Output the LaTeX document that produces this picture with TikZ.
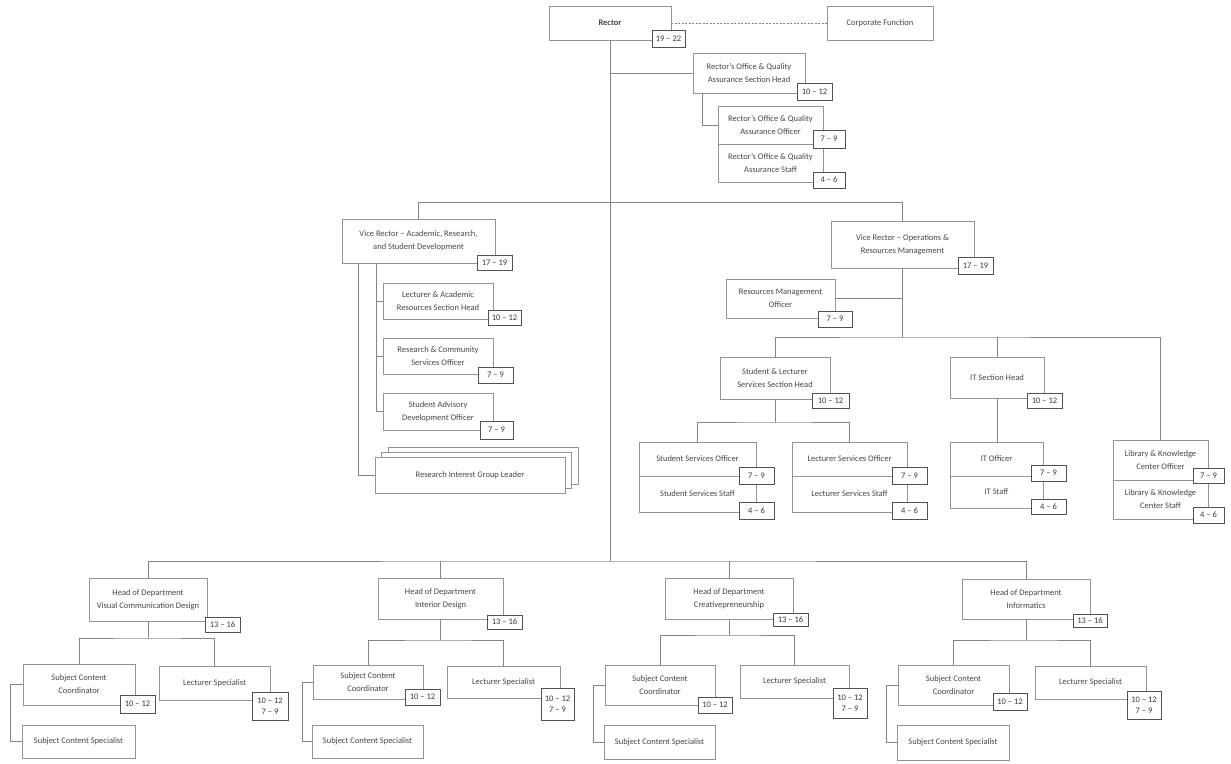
\documentclass[tikz,border=0pt]{standalone}
\usepackage{fontspec}
\setmainfont{Carlito}
\usetikzlibrary{backgrounds,calc}
\tikzset{
  box/.style={draw=black!42, line width=0.6pt, fill=white, inner sep=1pt, outer sep=0pt,
    align=center, font=\fontsize{8.5}{13}\selectfont, text=black!72},
  grade/.style={draw=black!68, line width=0.75pt, fill=white, inner sep=1pt, outer sep=0pt,
    align=center, font=\fontsize{8.5}{11}\selectfont, text=black!78},
  conn/.style={draw=black!48, line width=0.6pt},
}
\newcommand\obox[7][]{\node[box,minimum width={(#5-#3)*1pt},minimum height={(#6-#4)*1pt},#1] (#2) at ({(#3+#5)/2},{(#4+#6)/2}) {#7};}
\newcommand\gbox[7][]{\node[grade,minimum width={(#5-#3)*1pt},minimum height={(#6-#4)*1pt},#1] (#2) at ({(#3+#5)/2},{(#4+#6)/2}) {#7};}
\begin{document}
\begin{tikzpicture}[x=1pt,y=-1pt]
\useasboundingbox (0,0) rectangle (1231,763);
% ---------- top ----------
\obox[font=\bfseries\fontsize{8.5}{13}\selectfont]{rector}{549}{6}{671}{40}{Rector}
\gbox{gRector}{652}{30}{685}{47}{19 – 22}
\obox{corp}{827}{6}{933}{40}{Corporate Function}
\obox{roqa}{693}{53}{805}{93}{Rector's Office \& Quality\\Assurance Section Head}
\gbox{gRoqa}{797}{83}{832}{100}{10 – 12}
\obox{roqaO}{718}{106}{823}{144}{Rector's Office \& Quality\\Assurance Officer}
\obox{roqaS}{718}{144}{823}{182}{Rector's Office \& Quality\\Assurance Staff}
\gbox{gRoqaO}{813}{130}{845}{148}{7 – 9}
\gbox{gRoqaS}{813}{172}{845}{188}{4 – 6}
% ---------- VR academic ----------
\obox{vra}{342}{219}{495}{263}{Vice Rector – Academic, Research,\\and Student Development}
\gbox{gVra}{477}{255}{512}{270}{17 – 19}
\obox{la}{383}{283}{493}{319}{Lecturer \& Academic\\Resources Section Head}
\gbox{gLa}{488}{310}{521}{325}{10 – 12}
\obox{rc}{383}{338}{493}{374}{Research \& Community\\Services Officer}
\gbox{gRc}{478}{367}{513}{383}{7 – 9}
\obox{sa}{383}{393}{493}{430}{Student Advisory\\Development Officer}
\gbox{gSa}{480}{421}{513}{439}{7 – 9}
\obox{rigl3}{388}{447}{578}{484}{}
\obox{rigl2}{381}{452}{571}{488}{}
\obox{rigl}{375}{457}{565}{493}{Research Interest Group Leader}
% ---------- VR operations ----------
\obox{vro}{831}{221}{974}{268}{Vice Rector – Operations \&\\Resources Management}
\gbox{gVro}{958}{257}{993}{274}{17 – 19}
\obox{rmo}{726}{279}{835}{318}{Resources Management\\Officer}
\gbox{gRmo}{818}{311}{852}{327}{7 – 9}
\obox{slh}{720}{357}{830}{399}{Student \& Lecturer\\Services Section Head}
\gbox{gSlh}{812}{393}{849}{408}{10 – 12}
\obox{itsh}{950}{357}{1044}{398}{IT Section Head}
\gbox{gItsh}{1027}{393}{1062}{408}{10 – 12}
\obox{sso}{639}{442}{756}{476}{Student Services Officer}
\obox{sss}{639}{476}{756}{512}{Student Services Staff}
\gbox{gSso}{739}{467}{774}{484}{7 – 9}
\gbox{gSss}{739}{502}{774}{519}{4 – 6}
\obox{lso}{792}{442}{907}{476}{Lecturer Services Officer}
\obox{lss}{792}{476}{907}{512}{Lecturer Services Staff}
\gbox{gLso}{892}{467}{927}{484}{7 – 9}
\gbox{gLss}{892}{502}{927}{519}{4 – 6}
\obox{ito}{950}{442}{1043}{476}{IT Officer}
\obox{its}{950}{476}{1043}{508}{IT Staff}
\gbox{gIto}{1031}{465}{1066}{481}{7 – 9}
\gbox{gIts}{1031}{499}{1066}{514}{4 – 6}
\obox{lko}{1113}{440}{1208}{480}{Library \& Knowledge\\Center Officer}
\obox{lks}{1113}{480}{1208}{519}{Library \& Knowledge\\Center Staff}
\gbox{gLko}{1193}{468}{1224}{483}{7 – 9}
\gbox{gLks}{1193}{507}{1224}{523}{4 – 6}
% ---------- departments ----------
\obox{hvcd}{89}{578}{207}{621}{Head of Department\\Visual Communication Design}
\gbox{gHvcd}{205}{617}{240}{632}{13 – 16}
\obox{scc1}{23}{664}{135}{705}{Subject Content\\Coordinator}
\gbox{gScc1}{120}{695}{155}{713}{10 – 12}
\obox{ls1}{159}{666}{270}{700}{Lecturer Specialist}
\gbox{gLs1}{252}{692}{288}{720}{10 – 12\\7 – 9}
\obox{scs1}{22}{725}{135}{758}{Subject Content Specialist}

\obox{hid}{378}{578}{503}{619}{Head of Department\\Interior Design}
\gbox{gHid}{487}{615}{522}{629}{13 – 16}
\obox{scc2}{313}{665}{423}{699}{Subject Content\\Coordinator}
\gbox{gScc2}{405}{689}{440}{705}{10 – 12}
\obox{ls2}{447}{666}{560}{698}{Lecturer Specialist}
\gbox{gLs2}{541}{688}{574}{720}{10 – 12\\7 – 9}
\obox{scs2}{312}{725}{423}{758}{Subject Content Specialist}

\obox{hc}{665}{578}{793}{619}{Head of Department\\Creativepreneurship}
\gbox{gHc}{773}{613}{808}{626}{13 – 16}
\obox{scc3}{605}{665}{715}{705}{Subject Content\\Coordinator}
\gbox{gScc3}{698}{697}{732}{713}{10 – 12}
\obox{ls3}{740}{665}{849}{698}{Lecturer Specialist}
\gbox{gLs3}{833}{688}{867}{718}{10 – 12\\7 – 9}
\obox{scs3}{604}{725}{715}{759}{Subject Content Specialist}

\obox{hinf}{962}{579}{1090}{619}{Head of Department\\Informatics}
\gbox{gHinf}{1073}{614}{1107}{627}{13 – 16}
\obox{scc4}{898}{665}{1009}{705}{Subject Content\\Coordinator}
\gbox{gScc4}{993}{693}{1027}{710}{10 – 12}
\obox{ls4}{1035}{666}{1146}{699}{Lecturer Specialist}
\gbox{gLs4}{1127}{691}{1161}{719}{10 – 12\\7 – 9}
\obox{scs4}{897}{725}{1009}{760}{Subject Content Specialist}

\coordinate (dbar) at (rector.south |- 0,561);
\coordinate (obar) at (vro.south |- 0,337);
% ---------- connectors ----------
\begin{scope}[on background layer]
\fill[white] (0,0) rectangle (1231,763);
\draw[conn, dashed, dash pattern=on 2pt off 1.5pt] (rector.east) -- (corp.west);
\draw[conn] (rector.south) -- (dbar);
\draw[conn] (rector.south |- roqa.west) -- (roqa.west);
\draw[conn] ($(roqa.south west)+(9,0)$) |- (roqaO.west);
\draw[conn] (vra.north) -- ++(0,-17) -| (vro.north);
\draw[conn] ($(vra.south west)+(16,0)$) |- (rigl.west);
\draw[conn] ($(vra.south west)+(34,0)$) |- (la.west);
\draw[conn] ($(vra.south west)+(34,0)$) |- (rc.west);
\draw[conn] ($(vra.south west)+(34,0)$) |- (sa.west);
\draw[conn] (vro.south) -- (obar);
\draw[conn] (vro.south |- rmo.east) -- (rmo.east);
\draw[conn] (slh.north) |- (obar) -| (lko.north);
\draw[conn] (itsh.north) -- (itsh.north |- obar);
\draw[conn] (slh.south) -- ++(0,23) coordinate (slb);
\draw[conn] (sso.north) |- (slb) -| (lso.north);
\draw[conn] (itsh.south) -- (itsh.south |- ito.north);
% departments
\draw[conn] (hvcd.north) |- (dbar) -| (hinf.north);
\draw[conn] (hid.north) -- (hid.north |- dbar);
\draw[conn] (hc.north) -- (hc.north |- dbar);
\draw[conn] (hvcd.south) -- ++(0,17) coordinate (b1);
\draw[conn] (scc1.north) |- (b1) -| (ls1.north);
\draw[conn] (scc1.west) -- ++(-13,0) |- (scs1.west);
\draw[conn] (hid.south) -- ++(0,21) coordinate (b2);
\draw[conn] (scc2.north) |- (b2) -| (ls2.north);
\draw[conn] (scc2.west) -- ++(-11,0) |- (scs2.west);
\draw[conn] (hc.south) -- ++(0,16) coordinate (b3);
\draw[conn] (scc3.north) |- (b3) -| (ls3.north);
\draw[conn] (scc3.west) -- ++(-12,0) |- (scs3.west);
\draw[conn] (hinf.south) -- ++(0,21) coordinate (b4);
\draw[conn] (scc4.north) |- (b4) -| (ls4.north);
\draw[conn] (scc4.west) -- ++(-12,0) |- (scs4.west);
\end{scope}
\end{tikzpicture}
\end{document}
